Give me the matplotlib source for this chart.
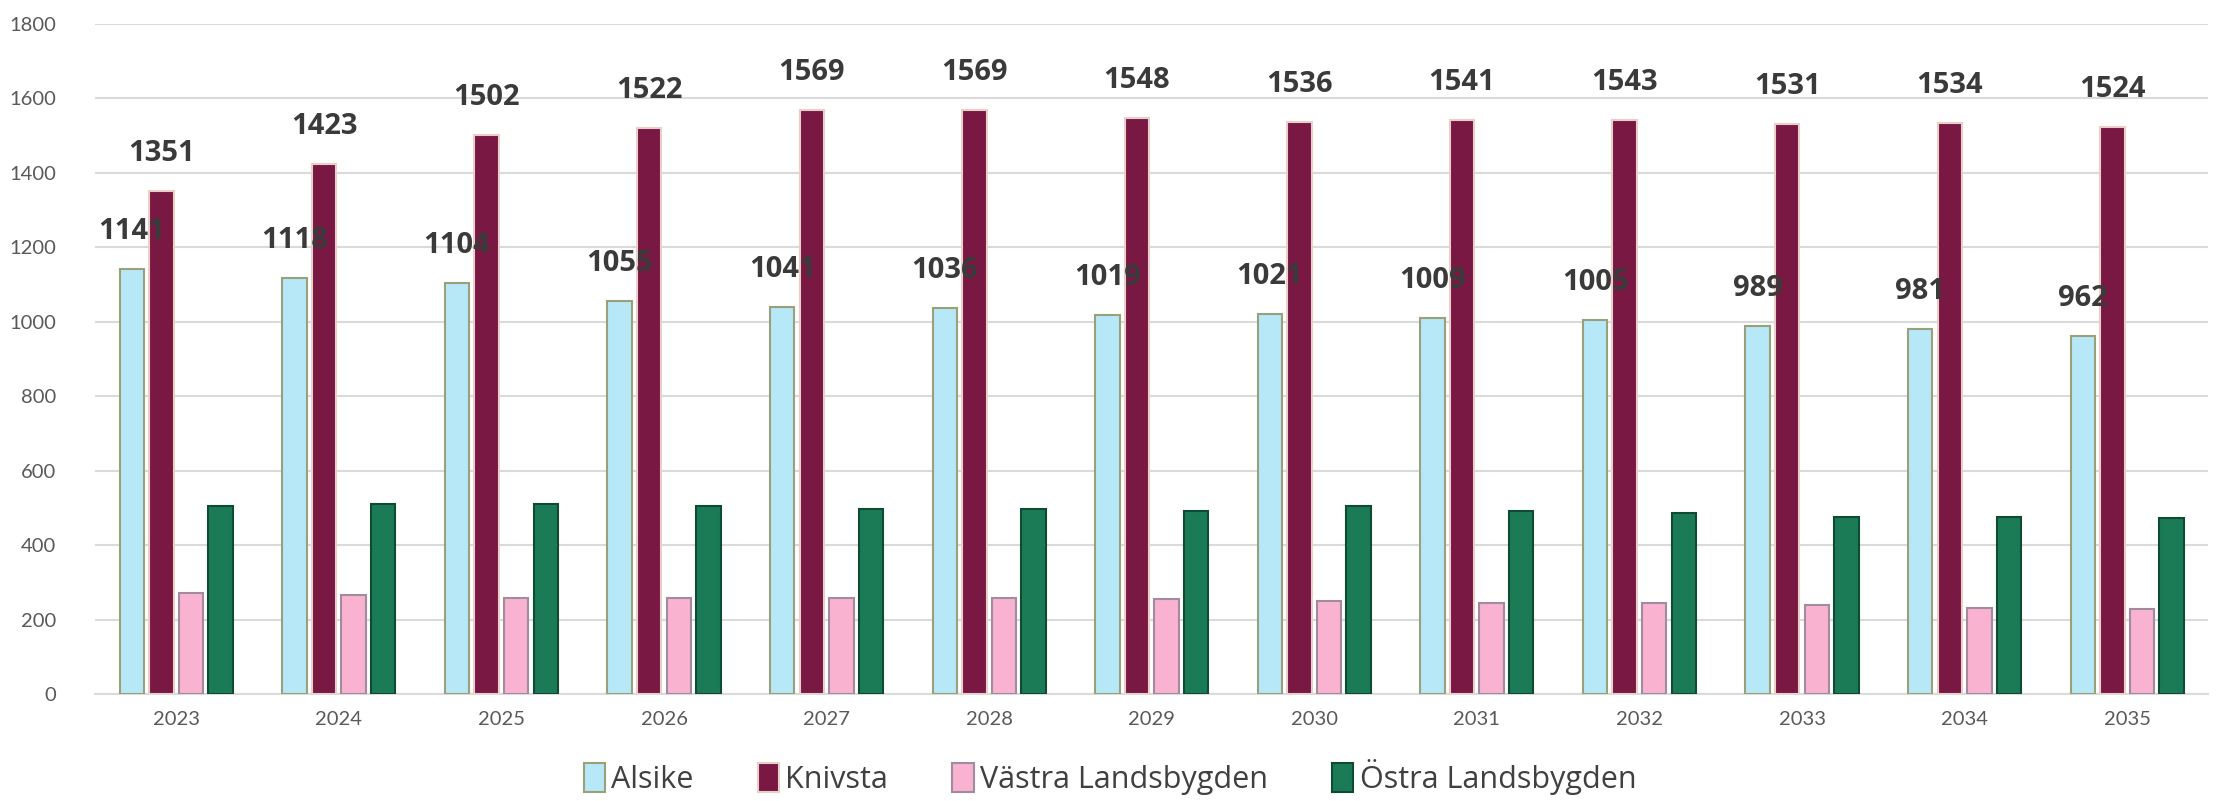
import matplotlib.pyplot as plt
import numpy as np
from matplotlib.patches import Patch

years = ['2023', '2024', '2025', '2026', '2027', '2028', '2029',
         '2030', '2031', '2032', '2033', '2034', '2035']
alsike = [1141, 1118, 1104, 1055, 1041, 1036, 1019, 1021, 1009, 1005, 989, 981, 962]
knivsta = [1351, 1423, 1502, 1522, 1569, 1569, 1548, 1536, 1541, 1543, 1531, 1534, 1524]
vastra = [270, 265, 259, 259, 259, 259, 255, 250, 245, 244, 238, 232, 227]
ostra = [506, 510, 510, 506, 498, 498, 491, 506, 491, 487, 476, 476, 472]

series = ['Alsike', 'Knivsta', 'Västra Landsbygden', 'Östra Landsbygden']
faces = ['#B6E8F8', '#7A1844', '#F9B2D0', '#1B7B56']
edges = ['#9AA07A', '#E8D0C8', '#A08C9E', '#0F4A33']

fig = plt.figure(figsize=(22.2, 8.01), dpi=100)
ax = fig.add_axes([0.0428, 0.1336, 0.952, 0.8364])

x = np.arange(len(years))
step = 0.182
width = 0.15
values = [alsike, knivsta, vastra, ostra]
for i, (vals, fc, ec) in enumerate(zip(values, faces, edges)):
    off = (i - 1.5) * step
    bars = ax.bar(x + off, vals, width, color=fc, edgecolor=ec,
                  linewidth=1.5, zorder=3)
    if i < 2:
        # value labels sit on top of everything, dark grey
        for b, v in zip(bars, vals):
            ax.annotate(str(v), (b.get_x() + b.get_width() / 2, v),
                        xytext=(0, 27), textcoords='offset points',
                        ha='center', va='center', fontsize=21,
                        fontweight='bold', family='Open Sans',
                        color='#3A3A3A', zorder=5)

ax.set_xlim(-0.5, len(years) - 0.5)
ax.set_ylim(0, 1800)
ax.set_yticks(range(0, 1801, 200))
ax.set_xticks(x)
ax.set_xticklabels(years)
ax.yaxis.grid(True, color='#DADADA', linewidth=1.5, zorder=0)
ax.set_axisbelow(True)
for s in ['top', 'right', 'left']:
    ax.spines[s].set_visible(False)
ax.spines['bottom'].set_color('#DADADA')
ax.spines['bottom'].set_linewidth(1.5)
ax.tick_params(axis='both', length=0, labelsize=14.5, labelcolor='#595959')
ax.tick_params(axis='x', pad=12)
ax.tick_params(axis='y', pad=28)
for lab in ax.get_xticklabels() + ax.get_yticklabels():
    lab.set_family('Lato')

handles = [Patch(facecolor=fc, edgecolor=ec, linewidth=1.5)
           for fc, ec in zip(faces, edges)]
fig.legend(handles, series, loc='center', bbox_to_anchor=(0.5, 0.03),
           ncol=4, frameon=False, prop={'family': 'Open Sans', 'size': 22},
           handlelength=0.7, handleheight=1.1, handletextpad=0.2,
           columnspacing=2.1, labelcolor='#404040')

fig.savefig('out.png', dpi=100)
